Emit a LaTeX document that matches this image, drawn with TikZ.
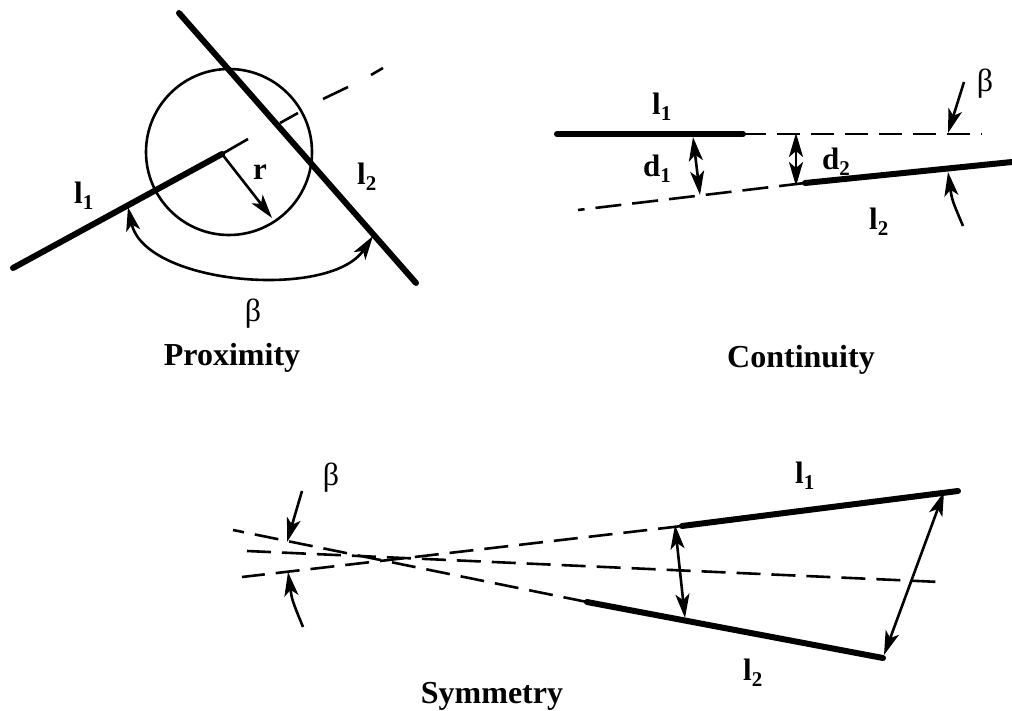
\documentclass[tikz,border=0pt]{standalone}
\usepackage{fontspec}
\setmainfont{Liberation Serif}
\usetikzlibrary{arrows.meta}
\newcommand{\lsub}[2]{\textbf{#1\raisebox{-6pt}{\fontsize{21}{21}\selectfont\bfseries #2}}}
\begin{document}
\begin{tikzpicture}[x=1pt,y=-1pt,
 thickline/.style={line width=6pt, line cap=round},
 thinline/.style={line width=2.6pt},
 dashline/.style={line width=2.6pt, dash pattern=on 24pt off 11pt},
 tip/.tip={Stealth[length=24pt,width=14pt,inset=6pt]},
 arr/.style={line width=2.6pt, -tip},
 darr/.style={line width=2.6pt, tip-tip},
 lab/.style={font=\fontsize{31}{31}\selectfont, inner sep=0pt, anchor=base west},
 ttl/.style={font=\fontsize{32}{32}\selectfont\bfseries, inner sep=0pt, anchor=base},
 greek/.style={font=\fontsize{32}{32}\selectfont, inner sep=0pt}]
\useasboundingbox (0,0) rectangle (1012,711);

% ---------------- Proximity ----------------
\coordinate (P1a) at (13,268);
\coordinate (P1b) at (222,154);
\coordinate (P1c) at (248,139);
\coordinate (P2a) at (179,13);
\coordinate (P2b) at (416,283);
\coordinate (E1) at (280,123);
\coordinate (E2) at (298,113);
\coordinate (E3) at (323,99);
\coordinate (E4) at (348,87);
\coordinate (E5) at (371,75);
\coordinate (E6) at (383,68);
\coordinate (rEnd) at (272,218);
\coordinate (B1) at (128,207);
\coordinate (B2) at (373,236);
\node[circle, draw, line width=2.6pt, minimum size=166pt, inner sep=0pt] (circ) at (229,152) {};
\draw[thickline] (P1a) -- (P1b);
\draw[thinline] (P1b) -- (P1c);
\draw[thickline] (P2a) -- (P2b);
\draw[thinline] (E1) -- (E2);
\draw[thinline] (E3) -- (E4);
\draw[thinline] (E5) -- (E6);
\draw[arr] (P1b) -- (rEnd);
\draw[darr] (B1) .. controls (145,285) and (330,300) .. (B2);
\node[lab] (pl1) at (74,204) {\lsub{l}{1}};
\node[lab] (pl2) at (357,185) {\lsub{l}{2}};
\node[lab] (pr) at (253,180) {\textbf{r}};
\node[greek] (pb) at (253,314) {β};
\node[ttl] (ptitle) at (232,365) {Proximity};

% ---------------- Continuity ----------------
\coordinate (C1a) at (557,134);
\coordinate (C1b) at (743,134);
\coordinate (C1c) at (982,134);
\coordinate (C2a) at (805,183);
\coordinate (C2b) at (1012,162);
\coordinate (C2c) at (578,210);
\coordinate (D1t) at (693,137);
\coordinate (D1b) at (700,195);
\coordinate (D2t) at (796,133);
\coordinate (D2b) at (796,186);
\coordinate (CBt1) at (964,82);
\coordinate (CBt2) at (948,133);
\coordinate (CBb1) at (963,226);
\coordinate (CBb2) at (948,172);
\draw[thickline] (C1a) -- (C1b);
\draw[line width=2.6pt, dash pattern=on 23pt off 11pt] (C1b) -- (C1c);
\draw[thickline] (C2a) -- (C2b);
\draw[line width=2.6pt, dash pattern=on 26pt off 11pt] (C2a) -- (C2c);
\draw[darr] (D1t) -- (D1b);
\draw[darr] (D2t) -- (D2b);
\draw[arr] (CBt1) -- (CBt2);
\draw[arr] (CBb1) .. controls (952,200) .. (CBb2);
\node[lab] (cl1) at (652,115) {\lsub{l}{1}};
\node[lab] (cd1) at (643,177) {\lsub{d}{1}};
\node[lab] (cd2) at (822,170) {\lsub{d}{2}};
\node[lab] (cl2) at (869,230) {\lsub{l}{2}};
\node[greek] (cb) at (985,84) {β};
\node[ttl] (ctitle) at (801,367) {Continuity};

% ---------------- Symmetry ----------------
\coordinate (S1a) at (958,491);
\coordinate (S1b) at (682,526);
\coordinate (S1c) at (242,577);
\coordinate (S2a) at (883,658);
\coordinate (S2b) at (587,602);
\coordinate (S2c) at (233,530);
\coordinate (Ax1) at (247,551);
\coordinate (Ax2) at (940,582);
\coordinate (A1t) at (675,525);
\coordinate (A1b) at (685,618);
\coordinate (A2t) at (944,492);
\coordinate (A2b) at (884,655);
\coordinate (SBt1) at (302,491);
\coordinate (SBt2) at (287,542);
\coordinate (SBb1) at (303,627);
\coordinate (SBb2) at (288,572);
\draw[thickline] (S1a) -- (S1b);
\draw[dashline] (S1b) -- (S1c);
\draw[thickline] (S2a) -- (S2b);
\draw[dashline] (S2b) -- (S2c);
\draw[dashline] (Ax1) -- (Ax2);
\draw[darr] (A1t) -- (A1b);
\draw[darr] (A2t) -- (A2b);
\draw[arr] (SBt1) -- (SBt2);
\draw[arr] (SBb1) .. controls (292,600) .. (SBb2);
\node[lab] (sl1) at (795,483) {\lsub{l}{1}};
\node[lab] (sl2) at (743,680) {\lsub{l}{2}};
\node[greek] (sb) at (331,478) {β};
\node[ttl] (stitle) at (492,703) {Symmetry};
\end{tikzpicture}
\end{document}
